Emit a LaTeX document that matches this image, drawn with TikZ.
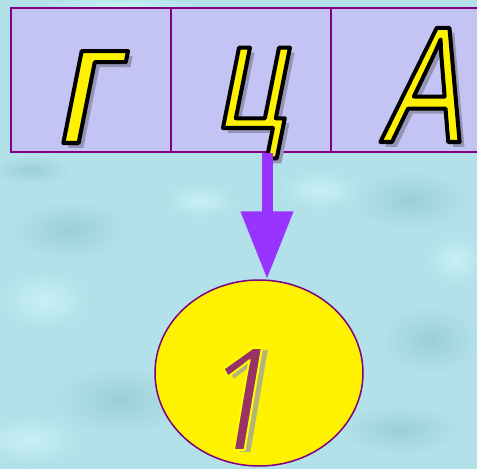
\documentclass[tikz,border=0pt]{standalone}
\usepackage{fontspec}
\setmainfont{Liberation Sans}
\newfontfamily\gefont[FakeSlant=0.2]{Liberation Sans}
\newfontfamily\tsefont[FakeSlant=0.2,FakeStretch=0.82]{Liberation Sans}
\newfontfamily\afont[FakeSlant=0.2,FakeStretch=0.72]{Liberation Sans}
\newfontfamily\digitfont[FakeSlant=0.17,FakeStretch=0.95]{Open Sans}
\usetikzlibrary{arrows.meta,shapes.geometric}
\definecolor{bgwater}{HTML}{B2E1E9}
\definecolor{bgdark}{HTML}{9DCED7}
\definecolor{bglight}{HTML}{C8F0F5}
\definecolor{cellfill}{HTML}{C4C4F4}
\definecolor{tblborder}{HTML}{800080}
\definecolor{arrowviolet}{HTML}{9933FF}
\definecolor{numcolor}{HTML}{993366}
\definecolor{shadowgray}{HTML}{9494B4}
\definecolor{shadowgrayb}{HTML}{B4B478}
\newcommand{\outlinedletter}[3]{{\fontsize{#1}{#1}\selectfont#2%
  \makebox[0pt][l]{\hspace{5pt}\raisebox{-5pt}{\color{shadowgray}#3}}%
  \color{yellow}\special{pdf:literal direct 0 0 0 RG 4 w 1 j 2 Tr}#3\special{pdf:literal direct 0 Tr}}}
\newcommand{\outlinednumber}[2]{{\fontsize{#1}{#1}\selectfont\digitfont
  \makebox[0pt][l]{\hspace{6pt}\raisebox{-2pt}{\color{shadowgrayb}#2}}%
  \color{numcolor}\special{pdf:literal direct 1 1 0 RG 2 w 1 j 2 Tr}#2\special{pdf:literal direct 0 Tr}}}
\tikzset{
  cellbox/.style={draw=tblborder, fill=cellfill, line width=2pt,
    minimum width=160pt, minimum height=144pt, inner sep=0pt},
  letterbox/.style={inner sep=0pt, anchor=base},
  blobdark/.style={inner color=bgdark, outer color=bgwater},
  bloblight/.style={inner color=bglight, outer color=bgwater},
}
\begin{document}
\begin{tikzpicture}[x=1pt,y=-1pt]
\useasboundingbox (0,0) rectangle (477,469);
\clip (0,0) rectangle (477,469);
% water background
\fill[bgwater] (0,0) rectangle (477,469);
\shade[blobdark] (70,230) ellipse [x radius=60, y radius=30];
\shade[bloblight] (45,300) ellipse [x radius=45, y radius=30];
\shade[blobdark] (120,400) ellipse [x radius=70, y radius=35];
\shade[bloblight] (30,440) ellipse [x radius=50, y radius=25];
\shade[blobdark] (410,200) ellipse [x radius=60, y radius=30];
\shade[bloblight] (320,190) ellipse [x radius=40, y radius=20];
\shade[blobdark] (430,340) ellipse [x radius=50, y radius=35];
\shade[bloblight] (455,260) ellipse [x radius=30, y radius=25];
\shade[blobdark] (400,430) ellipse [x radius=60, y radius=25];
\shade[bloblight] (200,200) ellipse [x radius=35, y radius=18];
\shade[blobdark] (30,170) ellipse [x radius=40, y radius=15];
\shade[bloblight] (120,5) ellipse [x radius=80, y radius=8];
% table
\node[cellbox] (c1) at (90.5,80) {};
\node[cellbox] (c2) at (251,80) {};
\node[cellbox] (c3) at (411,80) {};
\node[letterbox] (l1) at (83,143) {\outlinedletter{174}{\gefont}{г}};
\node[letterbox] (l2) at (250,128) {\outlinedletter{152}{\tsefont}{ц}};
\node[letterbox] (l3) at (420,142) {\outlinedletter{166}{\afont}{А}};
% ellipse with number
\node[ellipse, draw=tblborder, fill=yellow, line width=1.5pt,
  minimum width=208pt, minimum height=186pt, inner sep=0pt] (num) at (259,373) {};
\node[letterbox] (n1) at (236,450) {\outlinednumber{143}{1}};
% arrow
\coordinate (arrowstart) at (267,153);
\draw[arrowviolet, line width=11pt, -{Triangle[length=68pt,width=50pt]}]
  (arrowstart) -- (arrowstart |- num.north);
\end{tikzpicture}
\end{document}
